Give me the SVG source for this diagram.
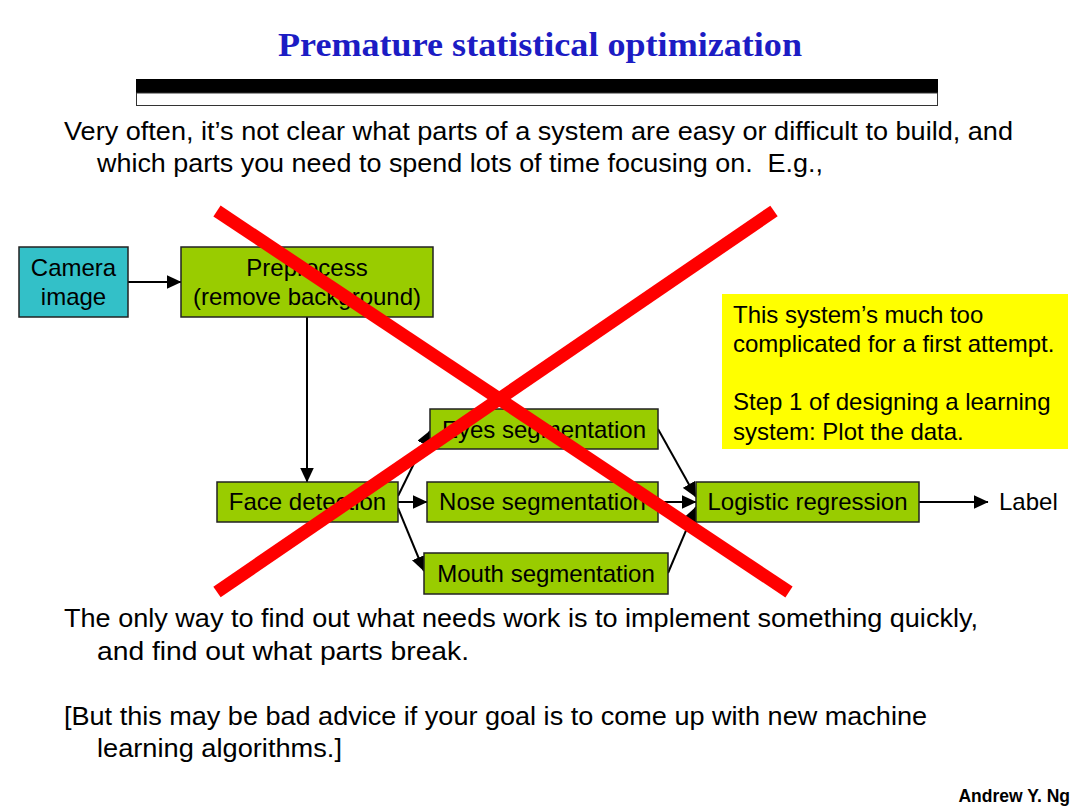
<svg xmlns="http://www.w3.org/2000/svg" width="1080" height="809" viewBox="0 0 1080 809">
<defs>
<marker id="ah" markerWidth="15" markerHeight="14" refX="14.5" refY="7" orient="auto" markerUnits="userSpaceOnUse">
<path d="M0,0 L15,7 L0,14 Z" fill="#000"/>
</marker>
<style>
.t{font-family:"Liberation Sans",Arial,sans-serif;fill:#000}
.body{font-size:25px}
.n{font-size:24px;text-anchor:middle}
.box{fill:#99cc00;stroke:#222;stroke-width:1.5}
.cn{stroke:#000;stroke-width:2;fill:none;marker-end:url(#ah)}
.x{stroke:#ff0000;stroke-width:13;stroke-linecap:butt}
</style>
</defs>
<rect width="1080" height="809" fill="#fff"/>
<text x="540" y="56" text-anchor="middle" font-family="'Liberation Serif','Times New Roman',serif" font-weight="bold" font-size="34" fill="#1c1cc4" textLength="524" lengthAdjust="spacingAndGlyphs">Premature statistical optimization</text>
<rect x="136" y="79" width="802" height="14" fill="#000"/>
<rect x="136.5" y="93" width="801" height="12.5" fill="#fff" stroke="#333" stroke-width="1"/>
<text class="t body" x="64" y="140" textLength="949" lengthAdjust="spacingAndGlyphs">Very often, it’s not clear what parts of a system are easy or difficult to build, and</text>
<text class="t body" x="97" y="172" textLength="726" lengthAdjust="spacingAndGlyphs">which parts you need to spend lots of time focusing on.&#160; E.g.,</text>

<g id="connectors">
<line class="cn" x1="128" y1="282" x2="181" y2="282"/>
<line class="cn" x1="307" y1="317" x2="307" y2="482"/>
<line class="cn" x1="398" y1="496" x2="430" y2="431"/>
<line class="cn" x1="398" y1="502" x2="427" y2="502"/>
<line class="cn" x1="398" y1="508" x2="424" y2="571"/>
<line class="cn" x1="658" y1="429" x2="696" y2="497"/>
<line class="cn" x1="658" y1="502" x2="696" y2="502"/>
<line class="cn" x1="668" y1="573" x2="696" y2="507"/>
<line class="cn" x1="919" y1="502" x2="988" y2="502"/>
</g>

<g id="camera">
<rect x="19" y="247" width="109" height="70" fill="#33c0c8" stroke="#222" stroke-width="1.5"/>
<text class="t n" x="73.5" y="276">Camera</text>
<text class="t n" x="73.5" y="305">image</text>
</g>
<g id="preprocess">
<rect class="box" x="181" y="247" width="252" height="70"/>
<text class="t n" x="307" y="276">Preprocess</text>
<text class="t n" x="307" y="305">(remove background)</text>
</g>
<g id="face">
<rect class="box" x="217" y="482" width="181" height="40"/>
<text class="t n" x="307.5" y="510">Face detection</text>
</g>
<g id="eyes">
<rect class="box" x="430" y="409" width="228" height="40"/>
<text class="t n" x="544" y="438">Eyes segmentation</text>
</g>
<g id="nose">
<rect class="box" x="427" y="482" width="231" height="40"/>
<text class="t n" x="542.5" y="510">Nose segmentation</text>
</g>
<g id="mouth">
<rect class="box" x="424" y="553" width="244" height="41"/>
<text class="t n" x="546" y="582">Mouth segmentation</text>
</g>
<g id="logistic">
<rect class="box" x="696" y="482" width="223" height="40"/>
<text class="t n" x="807.5" y="510">Logistic regression</text>
</g>
<g id="label">
<text class="t" font-size="24" x="999" y="510">Label</text>
</g>
<g id="note">
<rect x="722" y="294" width="346" height="155" fill="#ffff00"/>
<text class="t" font-size="24" x="733" y="323">This system’s much too</text>
<text class="t" font-size="24" x="733" y="352">complicated for a first attempt.</text>
<text class="t" font-size="24" x="733" y="410">Step 1 of designing a learning</text>
<text class="t" font-size="24" x="733" y="440">system: Plot the data.</text>
</g>

<g id="cross">
<line class="x" x1="217" y1="211" x2="789" y2="592"/>
<line class="x" x1="774" y1="211" x2="217" y2="592"/>
</g>

<text class="t body" x="64" y="627" textLength="914" lengthAdjust="spacingAndGlyphs">The only way to find out what needs work is to implement something quickly,</text>
<text class="t body" x="97" y="660" textLength="372" lengthAdjust="spacingAndGlyphs">and find out what parts break.</text>
<text class="t body" x="64" y="725" textLength="863" lengthAdjust="spacingAndGlyphs">[But this may be bad advice if your goal is to come up with new machine</text>
<text class="t body" x="97" y="757" textLength="245" lengthAdjust="spacingAndGlyphs">learning algorithms.]</text>
<text class="t" x="1070" y="802" font-size="17.5" font-weight="bold" text-anchor="end">Andrew Y. Ng</text>
</svg>
